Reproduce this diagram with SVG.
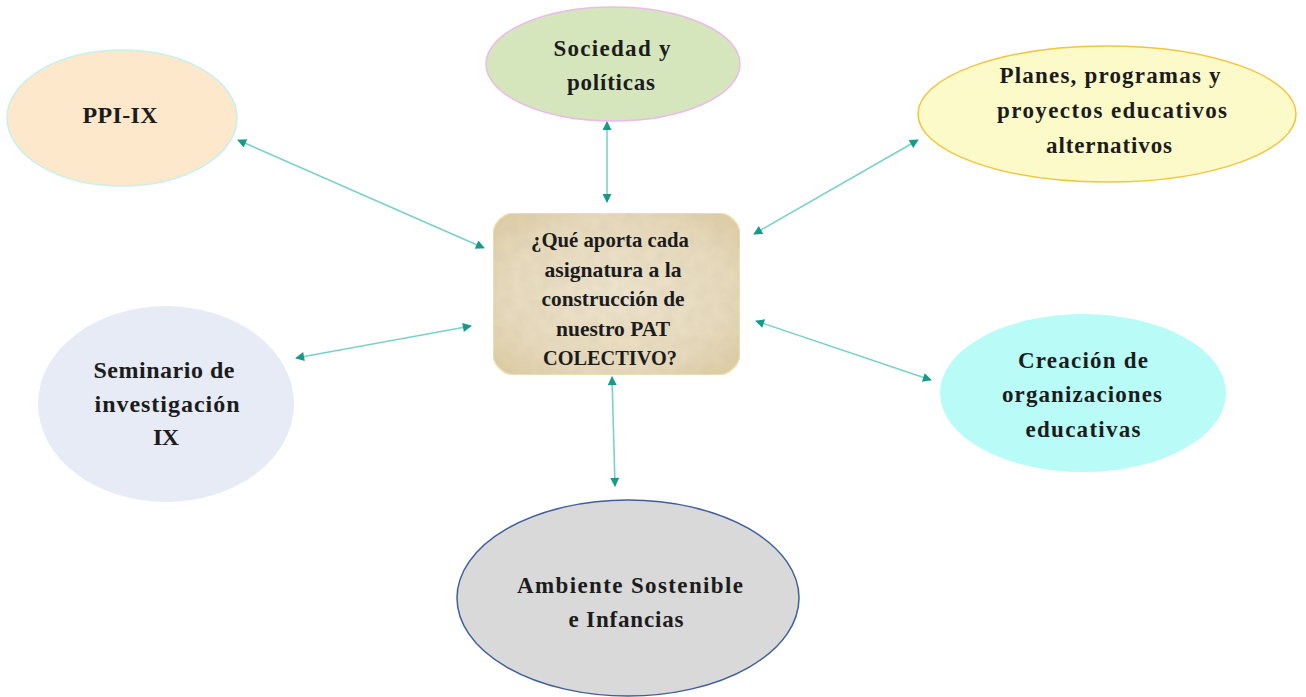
<svg xmlns="http://www.w3.org/2000/svg" width="1306" height="697" viewBox="0 0 1306 697">
<style>
text{font-family:"Liberation Serif","Times New Roman",serif;font-weight:bold;fill:#1c1c1c;text-anchor:middle}
.t23{font-size:23px}
.t24{font-size:24px}
.t21{font-size:22px}
.conn{stroke:#79d2c9;stroke-width:1.6;fill:none;marker-start:url(#ah);marker-end:url(#ah)}
</style>
<defs>
<marker id="ah" viewBox="0 0 10 10" refX="9" refY="5" markerWidth="11" markerHeight="9" markerUnits="userSpaceOnUse" orient="auto-start-reverse">
<path d="M0,0 L10,5 L0,10 z" fill="#179a89"/>
</marker>
<radialGradient id="parch" cx="50%" cy="50%" r="65%">
<stop offset="0" stop-color="#efe6d0"/>
<stop offset="0.7" stop-color="#e8dbbd"/>
<stop offset="1" stop-color="#dfcea6"/>
</radialGradient>
<filter id="grain" x="0" y="0" width="100%" height="100%">
<feTurbulence type="fractalNoise" baseFrequency="0.08" numOctaves="3" seed="4" result="n"/>
<feColorMatrix in="n" type="matrix" values="0 0 0 0 0.55  0 0 0 0 0.48  0 0 0 0 0.35  0 0 0 0.35 -0.05" result="c"/>
<feComposite in="c" in2="SourceGraphic" operator="in" result="cc"/>
<feMerge><feMergeNode in="SourceGraphic"/><feMergeNode in="cc"/></feMerge>
</filter>
</defs>
<rect width="1306" height="697" fill="#ffffff"/>

<g id="connectors">
<line class="conn" x1="238" y1="140" x2="484" y2="248"/>
<line class="conn" x1="607" y1="122" x2="607" y2="202"/>
<line class="conn" x1="918" y1="140" x2="754" y2="234"/>
<line class="conn" x1="296" y1="358" x2="471" y2="326"/>
<line class="conn" x1="756" y1="321" x2="931" y2="380"/>
<line class="conn" x1="612" y1="377" x2="615" y2="486"/>
</g>

<g id="node-center">
<rect x="493" y="213" width="247" height="162" rx="22" ry="22" fill="url(#parch)" stroke="#f5e6b8" stroke-width="1.5" filter="url(#grain)"/>
<text class="t21" x="610" y="247" textLength="158" lengthAdjust="spacingAndGlyphs">¿Qué aporta cada</text>
<text class="t21" x="613" y="276.5" textLength="137" lengthAdjust="spacingAndGlyphs">asignatura a la</text>
<text class="t21" x="613" y="306" textLength="143" lengthAdjust="spacingAndGlyphs">construcción de</text>
<text class="t21" x="613" y="335.5" textLength="114" lengthAdjust="spacingAndGlyphs">nuestro PAT</text>
<text class="t21" x="610" y="365" textLength="134" lengthAdjust="spacingAndGlyphs">COLECTIVO?</text>
</g>

<g id="node-ppi">
<ellipse cx="122" cy="118" rx="115" ry="68" fill="#fde8cc" stroke="#c6f1ec" stroke-width="1.5"/>
<text class="t24" x="120" y="123" textLength="75">PPI-IX</text>
</g>

<g id="node-sociedad">
<ellipse cx="613" cy="64" rx="127" ry="57" fill="#d5e6bd" stroke="#ebbcea" stroke-width="1.5"/>
<text class="t23" x="612" y="56" textLength="117">Sociedad y</text>
<text class="t23" x="611" y="90" textLength="88">políticas</text>
</g>

<g id="node-planes">
<ellipse cx="1107" cy="114" rx="189" ry="68" fill="#fdfac9" stroke="#f2c53c" stroke-width="1.5"/>
<text class="t23" x="1110" y="83" textLength="221">Planes, programas y</text>
<text class="t23" x="1112" y="118" textLength="230">proyectos educativos</text>
<text class="t23" x="1109" y="153" textLength="126">alternativos</text>
</g>

<g id="node-seminario">
<ellipse cx="166" cy="404" rx="128" ry="98" fill="#e6ebf6"/>
<text class="t24" x="164" y="378" textLength="141">Seminario de</text>
<text class="t24" x="167" y="412" textLength="145">investigación</text>
<text class="t24" x="166" y="445" textLength="26">IX</text>
</g>

<g id="node-creacion">
<ellipse cx="1083" cy="393" rx="143" ry="79" fill="#b9fbf7"/>
<text class="t23" x="1083" y="368" textLength="130">Creación de</text>
<text class="t23" x="1082" y="402" textLength="160">organizaciones</text>
<text class="t23" x="1083" y="437" textLength="115">educativas</text>
</g>

<g id="node-ambiente">
<ellipse cx="628" cy="598" rx="171" ry="98" fill="#d9d9d9" stroke="#3f5e9c" stroke-width="1.5"/>
<text class="t23" x="630" y="593" textLength="226">Ambiente Sostenible</text>
<text class="t23" x="626" y="627" textLength="115">e Infancias</text>
</g>
</svg>
